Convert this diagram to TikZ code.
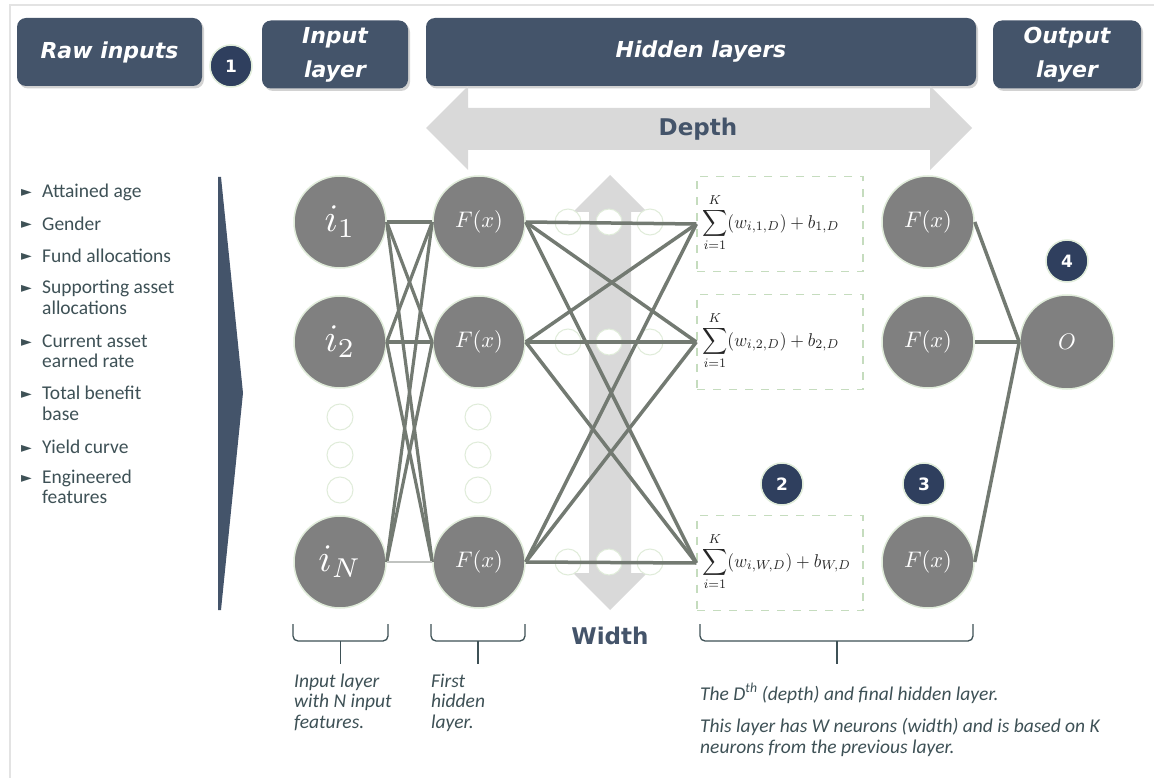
\documentclass[tikz,border=0pt]{standalone}
\usepackage{fontspec}
\usepackage{amsmath}
\usepackage{graphicx}
\setmainfont{Carlito}
\newfontfamily\dv{DejaVu Sans}
\usetikzlibrary{shadows}
\definecolor{hdr}{HTML}{44546A}
\definecolor{badge}{HTML}{2F3F5E}
\definecolor{neur}{HTML}{808080}
\definecolor{ring}{HTML}{E0ECDA}
\definecolor{edgec}{HTML}{737A72}
\definecolor{arr}{HTML}{D9D9D9}
\definecolor{txt}{HTML}{3E5156}
\definecolor{dashc}{HTML}{C5DCBE}
\definecolor{framec}{HTML}{E3E3E3}
\newcommand{\mysumexpr}[1]{\scalebox{1.75}[1.85]{$\displaystyle\sum_{i=1}^{K}(w_{i,#1,D})+b_{#1,D}$}}
\newcommand{\myinmath}[1]{\scalebox{3.9}{$#1$}}
\newcommand{\myfxmath}[1]{\scalebox{2.25}{$#1$}}
\begin{document}
\begin{tikzpicture}[x=1pt,y=-1pt,
  hdrbox/.style={rounded corners=9pt, fill=hdr, text=white, align=center, inner sep=0pt,
    font=\dv\bfseries\itshape\fontsize{22}{34}\selectfont,
    drop shadow={shadow xshift=2pt, shadow yshift=-2.5pt, opacity=0.35}},
  neuron/.style={circle, fill=neur, draw=ring, line width=1.5pt, minimum size=92pt, inner sep=0pt, text=white},
  smallc/.style={circle, fill=white, draw=ring, line width=1pt, minimum size=26pt, inner sep=0pt},
  badgest/.style={circle, fill=badge, draw=ring, line width=1.5pt, minimum size=42pt, inner sep=0pt, text=white,
    font=\dv\bfseries\fontsize{17}{17}\selectfont},
  sumbox/.style={draw=dashc, dash pattern=on 8pt off 8pt, line width=1.3pt, minimum width=166pt, minimum height=95pt, inner sep=0pt},
  sumtxt/.style={anchor=west, inner sep=0pt, text=black!85},
  edgeln/.style={draw=edgec, line width=3.2pt},
  bullet/.style={anchor=base west, inner sep=0pt, text=txt, font=\fontsize{19.5}{21}\selectfont},
  bmark/.style={anchor=base west, inner sep=0pt, text=txt, font=\dv\fontsize{14}{14}\selectfont},
  capt/.style={anchor=base west, inner sep=0pt, text=txt, font=\itshape\fontsize{19.5}{21}\selectfont},
  bigword/.style={text=hdr, inner sep=0pt, font=\dv\bfseries\fontsize{23}{23}\selectfont},
  bracel/.style={draw=txt, line width=1.3pt, rounded corners=5pt}
]
\useasboundingbox (0,0) rectangle (1154,778);
\fill[white] (0,0) rectangle (1154,778);
% frame
\draw[framec, line width=2pt] (10,778) -- (10,5) -- (1154,5);

% header boxes
\node[hdrbox, minimum width=185pt, minimum height=68pt] (hraw) at (109.5,52) {Raw inputs};
\node[hdrbox, minimum width=146pt, minimum height=68pt] (hin) at (335,54.5) {Input\\layer};
\node[hdrbox, minimum width=550pt, minimum height=68pt] (hhid) at (701,52) {Hidden layers};
\node[hdrbox, minimum width=148pt, minimum height=68pt] (hout) at (1067,54.5) {Output\\layer};
\node[badgest] (b1) at (231,66) {1};

% depth arrow
\fill[arr] (426,128) -- (468,86) -- (468,108) -- (930,108) -- (930,86) -- (972,128)
  -- (930,170) -- (930,150) -- (468,150) -- (468,170) -- cycle;
\node[bigword] (depth) at (698,129) {Depth};

% width arrow
\fill[arr] (610,175) -- (647,212) -- (631,212) -- (631,573) -- (647,573) -- (610,610)
  -- (573,573) -- (589,573) -- (589,212) -- (573,212) -- cycle;
\node[bigword] (width) at (610,636) {Width};

% left chevron
\fill[hdr] (218,177) -- (221,177) -- (243,393) -- (221,610) -- (218,610) -- cycle;

% bullets
\foreach \y in {198,230,262,293,347,399,453,483}{
  \node[bmark] at (21,\y-1) {►};
}
\node[bullet] (t1) at (42,198) {Attained age};
\node[bullet] (t2) at (42,230) {Gender};
\node[bullet] (t3) at (42,262) {Fund allocations};
\node[bullet] (t4a) at (42,293) {Supporting asset};
\node[bullet] (t4b) at (42,314) {allocations};
\node[bullet] (t5a) at (42,347) {Current asset};
\node[bullet] (t5b) at (42,367) {earned rate};
\node[bullet] (t6a) at (42,399) {Total benefit};
\node[bullet] (t6b) at (42,420) {base};
\node[bullet] (t7) at (42,453) {Yield curve};
\node[bullet] (t8a) at (42,483) {Engineered};
\node[bullet] (t8b) at (42,503) {features};

% small dots
\foreach \x/\y [count=\k] in {340/417,340/455,340/490,478/417,478/455,478/490,
  568/222,609/222,650/222,568/342,609/342,650/342,568/562,609/562,650/562}{
  \node[smallc] (d\k) at (\x,\y) {};
}

% sum boxes
\node[sumbox] (s1) at (780,224) {};
\node[sumbox] (s2) at (780,342) {};
\node[sumbox] (s3) at (780,563) {};
\node[sumtxt] (e1) at (702,223) {\mysumexpr{1}};
\node[sumtxt] (e2) at (702,341) {\mysumexpr{2}};
\node[sumtxt] (e3) at (702,562) {\mysumexpr{W}};

% neurons
\node[neuron] (i1) at (340,222) {\myinmath{i_1}};
\node[neuron] (i2) at (340,342) {\myinmath{i_2}};
\node[neuron] (iN) at (340,562) {\myinmath{i_N}};
\node[neuron] (f1) at (479,222) {\myfxmath{F(x)}};
\node[neuron] (f2) at (479,342) {\myfxmath{F(x)}};
\node[neuron] (f3) at (479,562) {\myfxmath{F(x)}};
\node[neuron] (g1) at (928,222) {\myfxmath{F(x)}};
\node[neuron] (g2) at (928,342) {\myfxmath{F(x)}};
\node[neuron] (g3) at (928,562) {\myfxmath{F(x)}};
\node[neuron, minimum size=94pt] (o) at (1067,342) {\myfxmath{O}};

% edges input -> first hidden
\draw[edgeln] (i1.east) -- (f1.west);
\draw[edgeln] (i1.east) -- (f2.west);
\draw[edgeln] (i1.east) -- (f3.west);
\draw[edgeln] (i2.east) -- (f1.west);
\draw[edgeln] (i2.east) -- (f2.west);
\draw[edgeln] (i2.east) -- (f3.west);
\draw[edgeln] (iN.east) -- (f1.west);
\draw[edgeln] (iN.east) -- (f2.west);
\draw[draw=edgec!45, line width=1.3pt] (iN.east) -- (f3.west);
% first hidden -> sums
\foreach \a in {f1,f2,f3}{
  \foreach \b in {s1,s2,s3}{
    \draw[edgeln, line width=3.5pt] (\a.east) -- (\b.west);
  }
}
% output
\draw[edgeln, line width=3.5pt] (g1.east) -- (o.west);
\draw[edgeln, line width=3.5pt] (g2.east) -- (o.west);
\draw[edgeln, line width=3.5pt] (g3.east) -- (o.west);

% badges
\node[badgest] (b2) at (782,484) {2};
\node[badgest] (b3) at (924,484) {3};
\node[badgest] (b4) at (1067,261) {4};

% braces
\draw[bracel] (293,624) -- (293,641) -- (388,641) -- (388,624);
\draw[bracel] (340.5,641) -- (340.5,664);
\draw[bracel] (431,624) -- (431,641) -- (525,641) -- (525,624);
\draw[bracel] (478,641) -- (478,664);
\draw[bracel] (700,624) -- (700,641) -- (973,641) -- (973,624);
\draw[bracel] (837,641) -- (837,664);

% captions
\node[capt] (c1a) at (294,687) {Input layer};
\node[capt] (c1b) at (294,707) {with N input};
\node[capt] (c1c) at (294,728) {features.};
\node[capt] (c2a) at (431,687) {First};
\node[capt] (c2b) at (431,707) {hidden};
\node[capt] (c2c) at (431,728) {layer.};
\node[capt] (c3a) at (700,700) {The D\textsuperscript{th} (depth) and final hidden layer.};
\node[capt] (c3b) at (700,732) {This layer has W neurons (width) and is based on K};
\node[capt] (c3c) at (700,753) {neurons from the previous layer.};
\end{tikzpicture}
\end{document}
